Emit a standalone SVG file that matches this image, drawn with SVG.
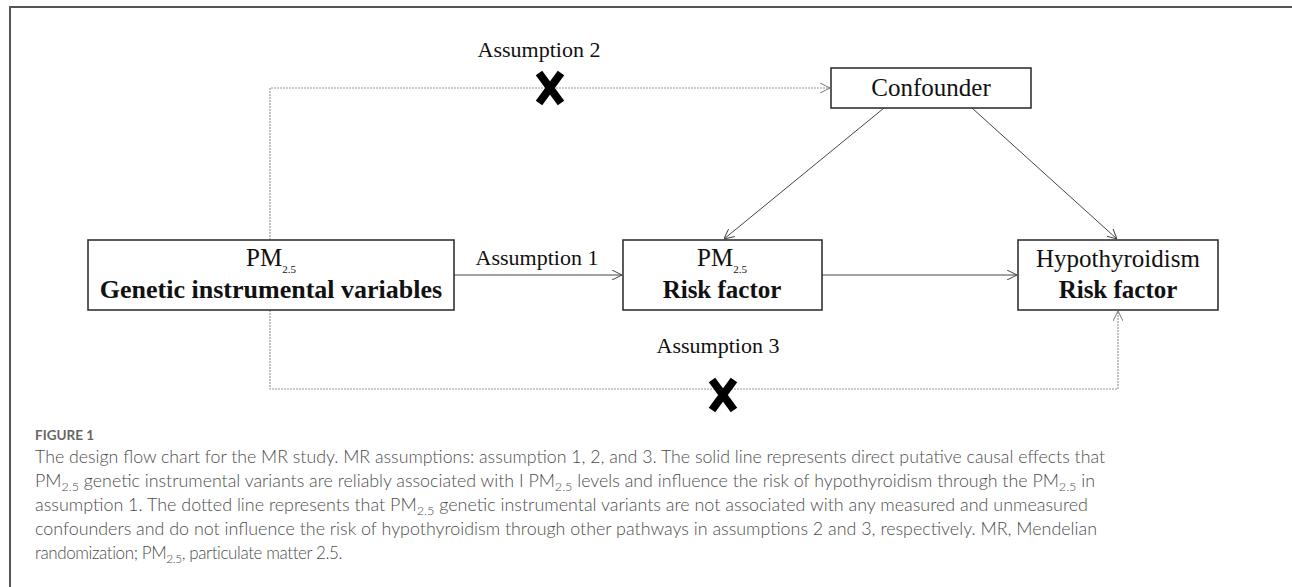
<svg xmlns="http://www.w3.org/2000/svg" width="1292" height="587" viewBox="0 0 1292 587">
<defs>
<style>
.box{fill:#fff;stroke:#333;stroke-width:1.6}
.t{font-family:"Liberation Serif","Times New Roman",serif;font-size:22px;fill:#111;text-anchor:middle}
.n{font-size:25px}
.b{font-weight:bold}
.sub{font-size:11px}
.solid{fill:none;stroke:#444;stroke-width:1}
.dot{fill:none;stroke:#999;stroke-width:1.2;stroke-dasharray:2 1}
.x{stroke:#000;stroke-width:8;stroke-linecap:butt}
.cap{font-family:Lato,"Open Sans",sans-serif;font-size:17px;font-weight:300;fill:#4d4d4d}
.capsub{font-size:12px}
.fig{font-family:Lato,"Open Sans",sans-serif;font-size:13.5px;font-weight:bold;fill:#666}
</style>
<marker id="ah" viewBox="0 0 10 10" refX="10" refY="5" markerWidth="10" markerHeight="10" markerUnits="userSpaceOnUse" orient="auto">
<path d="M0,0 L10,5 L0,10" fill="none" stroke="#444" stroke-width="1"/>
</marker>
<marker id="ahd" viewBox="0 0 10 10" refX="10" refY="5" markerWidth="10" markerHeight="10" markerUnits="userSpaceOnUse" orient="auto">
<path d="M0,0 L10,5 L0,10" fill="none" stroke="#777" stroke-width="1"/>
</marker>
</defs>
<rect width="1292" height="587" fill="#fff"/>
<path d="M10,587 V7 H1292" fill="none" stroke="#555" stroke-width="2"/>

<g id="connectors">
<path class="dot" d="M270,240 V88 H830" marker-end="url(#ahd)"/>
<path class="dot" d="M270,310 V389 H1118 V311" marker-end="url(#ahd)"/>
<path class="solid" d="M454,275 H622" marker-end="url(#ah)"/>
<path class="solid" d="M822,275 H1017" marker-end="url(#ah)"/>
<path class="solid" d="M884,108 L724,239" marker-end="url(#ah)"/>
<path class="solid" d="M972,108 L1117,239" marker-end="url(#ah)"/>
<text class="t" x="539" y="57">Assumption 2</text>
<text class="t" x="537" y="265">Assumption 1</text>
<text class="t" x="718" y="353">Assumption 3</text>
<g id="x1"><path class="x" d="M539,73 L561,103 M561,73 L539,103"/></g>
<g id="x2"><path class="x" d="M712,380 L734,410 M734,380 L712,410"/></g>
</g>

<g id="n-genetic">
<rect class="box" x="88" y="240" width="366" height="70"/>
<text class="t n" x="271" y="266">PM<tspan class="sub" dy="7">2.5</tspan></text>
<text class="t n b" x="271" y="298" style="font-size:26px">Genetic instrumental variables</text>
</g>
<g id="n-risk">
<rect class="box" x="623" y="240" width="199" height="70"/>
<text class="t n" x="722" y="266">PM<tspan class="sub" dy="7">2.5</tspan></text>
<text class="t n b" x="722" y="298">Risk factor</text>
</g>
<g id="n-hypo">
<rect class="box" x="1018" y="240" width="200" height="70"/>
<text class="t n" x="1118" y="267">Hypothyroidism</text>
<text class="t n b" x="1118" y="298">Risk factor</text>
</g>
<g id="n-conf">
<rect class="box" x="831" y="68" width="200" height="40"/>
<text class="t n" x="931" y="96">Confounder</text>
</g>

<g id="caption">
<text class="fig" x="35" y="440">FIGURE 1</text>
<text class="cap" x="35" y="463" textLength="1070" lengthAdjust="spacingAndGlyphs">The design flow chart for the MR study. MR assumptions: assumption 1, 2, and 3. The solid line represents direct putative causal effects that</text>
<text class="cap" x="35" y="487" textLength="1060" lengthAdjust="spacingAndGlyphs">PM<tspan class="capsub" dy="4">2.5</tspan><tspan dy="-4"> genetic instrumental variants are reliably associated with I PM</tspan><tspan class="capsub" dy="4">2.5</tspan><tspan dy="-4"> levels and influence the risk of hypothyroidism through the PM</tspan><tspan class="capsub" dy="4">2.5</tspan><tspan dy="-4"> in</tspan></text>
<text class="cap" x="35" y="511" textLength="1053" lengthAdjust="spacingAndGlyphs">assumption 1. The dotted line represents that PM<tspan class="capsub" dy="4">2.5</tspan><tspan dy="-4"> genetic instrumental variants are not associated with any measured and unmeasured</tspan></text>
<text class="cap" x="35" y="535" textLength="1062" lengthAdjust="spacingAndGlyphs">confounders and do not influence the risk of hypothyroidism through other pathways in assumptions 2 and 3, respectively. MR, Mendelian</text>
<text class="cap" x="35" y="559" letter-spacing="-0.4">randomization; PM<tspan class="capsub" dy="4">2.5</tspan><tspan dy="-4">, particulate matter 2.5.</tspan></text>
</g>
</svg>
